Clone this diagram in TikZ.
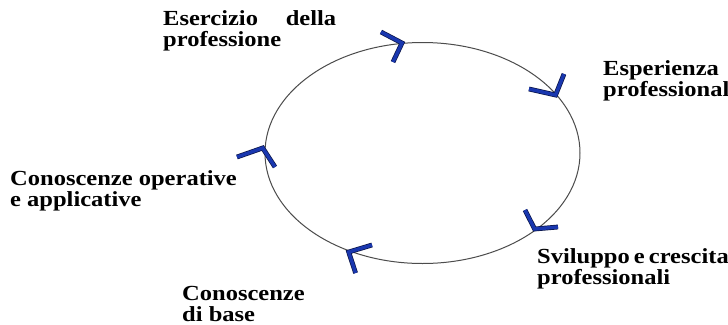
\documentclass[tikz,border=0pt]{standalone}
\usepackage{fontspec}
\setmainfont[FakeStretch=1.14]{Liberation Serif}
\usetikzlibrary{shapes.geometric}
\definecolor{chevblue}{RGB}{25,55,175}
\definecolor{chevedge}{RGB}{10,20,70}
\begin{document}
\begin{tikzpicture}[x=1pt,y=-1pt,
  lbl/.style={anchor=base west,inner sep=0pt,align=left,
    font=\fontsize{21.5}{21}\selectfont\bfseries},
  ring/.style={draw=black!70,line width=1pt},
  chev/.style={draw=chevedge,line width=0.7pt,double=chevblue,double distance=3.4pt,line join=miter}]
\useasboundingbox (0,0) rectangle (728,324);
\path[fill=white] (0,0) rectangle (728,324);
\node[ring,ellipse,minimum width=315pt,minimum height=221pt,inner sep=0pt] (cyc) at (422.5,153) {};
% nodes placed at the baseline of their last line
\node[lbl] (ese) at (163,46) {\makebox[173pt][s]{Esercizio della}\\professione};
\node[lbl] (esp) at (603,96.7) {Esperienza\\professional};
\node[lbl] (svi) at (537,284.3) {\makebox[190pt][s]{Sviluppo e crescita}\\professionali};
\node[lbl] (cdb) at (182,321.7) {Conoscenze\\di base};
\node[lbl] (cop) at (10,206.7) {Conoscenze operative\\e applicative};
% chevrons
\coordinate (a1) at (381,32); \coordinate (t1) at (402,43); \coordinate (b1) at (393,62);
\coordinate (a2) at (564,74); \coordinate (t2) at (555.6,95); \coordinate (b2) at (529,89);
\coordinate (a3) at (525,210); \coordinate (t3) at (534.6,229); \coordinate (b3) at (558,227);
\coordinate (a4) at (372,245); \coordinate (t4) at (348.7,252); \coordinate (b4) at (355.6,273);
\coordinate (a5) at (237,157); \coordinate (t5) at (262.7,148); \coordinate (b5) at (275,167);
\foreach \i in {1,...,5} \draw[chev] (a\i) -- (t\i) -- (b\i);
\end{tikzpicture}
\end{document}
